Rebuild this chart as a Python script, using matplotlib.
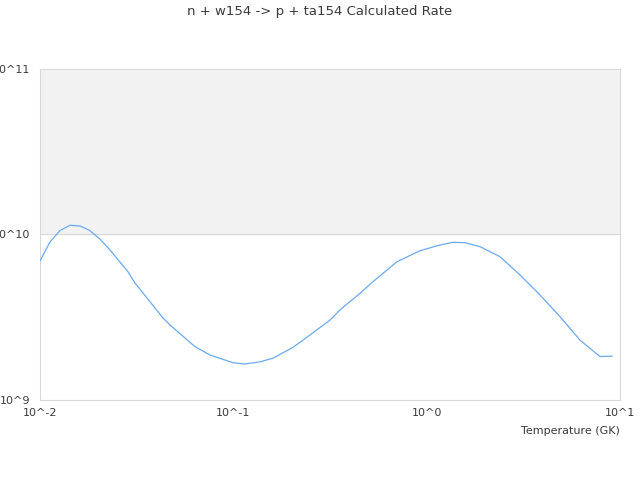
import matplotlib
matplotlib.use("Agg")
import matplotlib.pyplot as plt
from matplotlib.ticker import FixedLocator, FixedFormatter, NullLocator

# Temperature (GK) and calculated rate
temperature = [0.0100, 0.01126, 0.01269, 0.01429, 0.01610, 0.01792, 0.02043, 0.02301,
               0.02851, 0.03100, 0.04327, 0.04704, 0.06333, 0.07573, 0.09961, 0.1149,
               0.1374, 0.1604, 0.2035, 0.2292, 0.3162, 0.3562, 0.4519, 0.5278,
               0.7025, 0.9237, 1.172, 1.368, 1.579, 1.888, 2.395, 3.040,
               3.857, 4.894, 6.210, 6.996, 7.880, 9.091]
rate = [6.92e9, 9.01e9, 1.057e10, 1.137e10, 1.126e10, 1.065e10, 9.39e9, 8.06e9,
        5.96e9, 5.09e9, 3.13e9, 2.84e9, 2.10e9, 1.87e9, 1.68e9, 1.65e9,
        1.70e9, 1.79e9, 2.08e9, 2.30e9, 3.04e9, 3.50e9, 4.41e9, 5.19e9,
        6.85e9, 7.98e9, 8.64e9, 8.97e9, 8.92e9, 8.44e9, 7.34e9, 5.69e9,
        4.31e9, 3.19e9, 2.30e9, 2.05e9, 1.83e9, 1.84e9]

x_ticks = [0.01, 0.1, 1, 10]
x_labels = ["10^-2", "10^-1", "10^0", "10^1"]
y_ticks = [1e9, 1e10, 1e11]
y_labels = ["10^9", "10^10", "10^11"]

text_color = "#3a3a3a"
grid_color = "#d8d8d8"

fig = plt.figure(figsize=(6.4, 4.8), dpi=100)
ax = fig.add_axes([0.0625, 0.16667, 0.90625, 0.68958])

ax.set_xscale("log")
ax.set_yscale("log")
ax.set_xlim(0.01, 10)
ax.set_ylim(1e9, 1e11)

# alternating band like the original
ax.axhspan(1e10, 1e11, color="#f2f2f2", zorder=0)
ax.axhline(1e10, color=grid_color, lw=0.8, zorder=1)

ax.plot(temperature, rate, color="#6aaaf0", lw=0.9, zorder=3)

ax.xaxis.set_major_locator(FixedLocator(x_ticks))
ax.xaxis.set_major_formatter(FixedFormatter(x_labels))
ax.xaxis.set_minor_locator(NullLocator())
ax.yaxis.set_major_locator(FixedLocator(y_ticks))
ax.yaxis.set_major_formatter(FixedFormatter(y_labels))
ax.yaxis.set_minor_locator(NullLocator())
ax.tick_params(axis="both", length=0, labelsize=8, labelcolor=text_color)
ax.tick_params(axis="x", pad=6)
ax.tick_params(axis="y", pad=7)

for s in ax.spines.values():
    s.set_color(grid_color)
    s.set_linewidth(0.8)

ax.set_xlabel("Temperature (GK)", fontsize=8, color=text_color)
ax.xaxis.set_label_coords(1.0, -0.08)
ax.xaxis.label.set_ha("right")

fig.text(0.5, 0.975, "n + w154 -> p + ta154 Calculated Rate", ha="center", va="center",
         fontsize=9.5, color=text_color)

fig.savefig("out.png", dpi=100)
